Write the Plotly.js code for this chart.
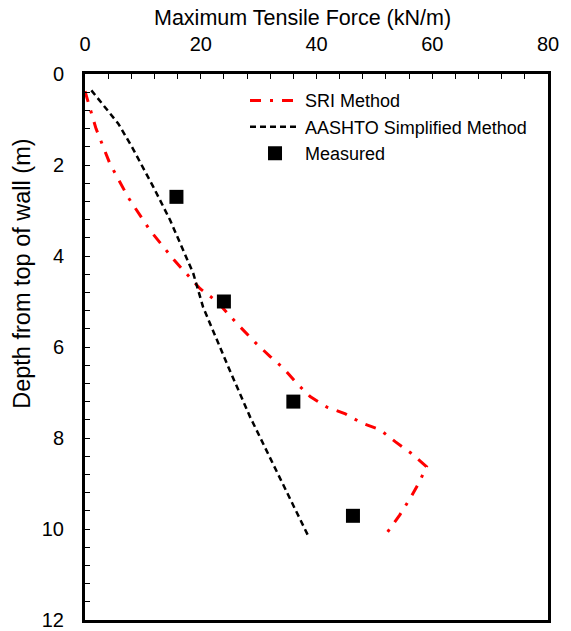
<!DOCTYPE html>
<html>
<head>
<meta charset="utf-8">
<script src="https://cdn.plot.ly/plotly-3.0.1.min.js"></script>
<style>html,body{margin:0;padding:0;background:#fff;}#chart{width:571px;height:631px;}</style>
</head>
<body>
<div id="chart"></div>
<script>
// SRI Method (red dash-dot)
const sriForce = [0, 0.6, 1.9, 4.3, 7.5, 11.2, 15.4, 19.9, 22.8, 26, 29.4, 32, 34.3, 36.6, 38.9, 41.8, 45, 47.8, 51, 53.6, 56.3, 59, 57.8, 56.4, 54.4, 51.7];
const sriDepth = [0.38, 0.65, 1.2, 1.97, 2.72, 3.43, 4.09, 4.72, 5.0, 5.45, 5.9, 6.21, 6.47, 6.8, 7.09, 7.32, 7.47, 7.67, 7.82, 8.08, 8.33, 8.63, 8.96, 9.28, 9.69, 10.17];
// AASHTO Simplified Method (black dashed)
const aashtoForce = [1.1, 3.5, 5.75, 8.1, 11.8, 14.7, 17.0, 18.7, 20.4, 22.6, 24.8, 28.5, 33.5, 38.6];
const aashtoDepth = [0.36, 0.75, 1.09, 1.6, 2.48, 3.21, 3.87, 4.38, 5.12, 5.8, 6.45, 7.53, 8.85, 10.16];
// Measured
const measForce = [15.8, 24.0, 36.0, 46.3];
const measDepth = [2.7, 5.0, 7.2, 9.71];

const xTickVals = [0, 20, 40, 60, 80];
const yTickVals = [0, 2, 4, 6, 8, 10, 12];
const xTitle = 'Maximum Tensile Force (kN/m)';
const yTitle = 'Depth from top of wall (m)';

const font = 'Liberation Sans, Arial, sans-serif';

const traces = [
  {x: sriForce, y: sriDepth, mode: 'lines', name: 'SRI Method',
   line: {color: '#FF0000', width: 3, dash: '11px,9px,3px,9px'}},
  {x: aashtoForce, y: aashtoDepth, mode: 'lines', name: 'AASHTO Simplified Method',
   line: {color: '#000000', width: 2.5, dash: '6px,4px'}},
  {x: measForce, y: measDepth, mode: 'markers', name: 'Measured',
   marker: {symbol: 'square', size: 14, color: '#000000'}}
];

const layout = {
  width: 571, height: 631,
  margin: {l: 85, r: 23, t: 74, b: 11},
  paper_bgcolor: '#fff', plot_bgcolor: '#fff',
  font: {family: font, color: '#000', size: 20},
  showlegend: true,
  legend: {x: 0.3456, y: 0.985, xanchor: 'left', yanchor: 'top', itemwidth: 50,
           font: {family: font, size: 18, color: '#000'}, bgcolor: 'rgba(0,0,0,0)'},
  xaxis: {
    side: 'top', range: [0, 80], tickvals: xTickVals, ticktext: xTickVals.map(String),
    ticks: 'inside', ticklen: 5, tickwidth: 1, tickcolor: '#000',
    minor: {dtick: 4, ticks: 'inside', ticklen: 5, tickwidth: 1, tickcolor: '#000'},
    showline: true, linewidth: 3, linecolor: '#000', mirror: true,
    showgrid: false, zeroline: false, ticklabelstandoff: 12,
    tickfont: {size: 20}
  },
  yaxis: {
    range: [12, 0], tickvals: yTickVals, ticktext: yTickVals.map(String),
    ticks: 'inside', ticklen: 5, tickwidth: 1, tickcolor: '#000',
    minor: {dtick: 0.4, ticks: 'inside', ticklen: 5, tickwidth: 1, tickcolor: '#000'},
    showline: true, linewidth: 3, linecolor: '#000', mirror: true,
    showgrid: false, zeroline: false, ticklabelstandoff: 14,
    tickfont: {size: 20}
  },
  annotations: [
    {text: xTitle, xref: 'paper', yref: 'paper', x: 0.469, y: 1.0, yshift: 56,
     xanchor: 'center', yanchor: 'middle', showarrow: false,
     font: {family: font, size: 21.5, color: '#000'}},
    {text: yTitle, xref: 'paper', yref: 'paper', x: -0.135, y: 0.635,
     xanchor: 'center', yanchor: 'middle', textangle: -90, showarrow: false,
     font: {family: font, size: 23.5, color: '#000'}}
  ]
};

Plotly.newPlot('chart', traces, layout, {staticPlot: true, displayModeBar: false});
</script>
</body>
</html>
